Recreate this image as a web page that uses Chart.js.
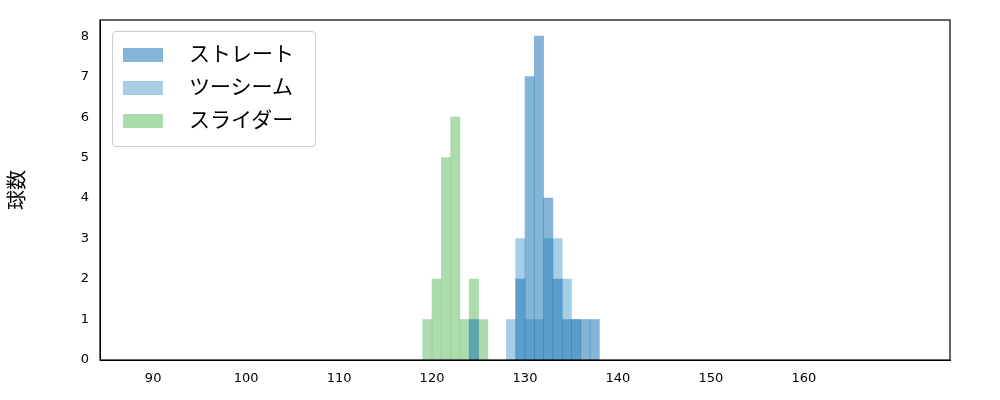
<!DOCTYPE html>
<html>
<head>
<meta charset="utf-8">
<script src="https://cdn.jsdelivr.net/npm/chart.js@4"></script>
<style>
body { margin: 0; background: #fff; font-family: "Noto Sans CJK JP", sans-serif; }
#wrap { position: relative; width: 1000px; height: 400px; }
#legend { position: absolute; left: 112px; top: 31px; width: 202px; height: 114px; border: 1px solid #ccc; border-radius: 4px; background: rgba(255,255,255,0.8); font-size: 21px; }
.item { position: absolute; left: 10px; height: 20px; line-height: 20px; }
.sw { display: inline-block; width: 40px; height: 14px; vertical-align: middle; margin-right: 26px; }
</style>
</head>
<body>
<div id="wrap">
<canvas id="chart" width="1000" height="400"></canvas>
<div id="legend"></div>
</div>
<script>
const names = ['ストレート', 'ツーシーム', 'スライダー'];
const colors = ['rgba(31,119,180,0.55)', 'rgba(107,174,214,0.6)', 'rgba(116,196,118,0.6)'];
// bin start (km/h) -> count, bin width 1
const straightBins = [124, 129, 130, 131, 132, 133, 134, 135, 136, 137];
const straightCounts = [1, 2, 7, 8, 4, 2, 1, 1, 1, 1];
const twoSeamBins = [128, 129, 130, 131, 132, 133, 134, 135];
const twoSeamCounts = [1, 3, 1, 1, 3, 3, 2, 1];
const sliderBins = [119, 120, 121, 122, 123, 124, 125];
const sliderCounts = [1, 2, 5, 6, 1, 2, 1];
const xTicks = [90, 100, 110, 120, 130, 140, 150, 160];

function pts(bins, counts) {
    return bins.map((b, i) => ({ x: b + 0.5, y: counts[i] }));
}

const frame = {
    id: 'frame',
    afterDraw(chart) {
        const a = chart.chartArea, c = chart.ctx;
        c.save();
        c.strokeStyle = '#000';
        c.lineWidth = 1.2;
        c.strokeRect(a.left, a.top, a.right - a.left, a.bottom - a.top);
        c.restore();
    }
};

new Chart(document.getElementById('chart').getContext('2d'), {
    type: 'bar',
    data: {
        datasets: [
            { label: names[0], data: pts(straightBins, straightCounts), backgroundColor: colors[0] },
            { label: names[1], data: pts(twoSeamBins, twoSeamCounts), backgroundColor: colors[1] },
            { label: names[2], data: pts(sliderBins, sliderCounts), backgroundColor: colors[2] }
        ]
    },
    options: {
        responsive: false,
        animation: false,
        layout: { padding: { top: 20, right: 50, left: 0, bottom: 0 } },
        datasets: { bar: { grouped: false, barPercentage: 1, categoryPercentage: 1 } },
        plugins: { legend: { display: false }, tooltip: { enabled: false } },
        scales: {
            x: {
                type: 'linear', min: 90, max: 170,
                grid: { display: false, drawTicks: true },
                border: { color: '#000' },
                afterBuildTicks: s => { s.ticks = xTicks.map(v => ({ value: v })); },
                ticks: { color: '#000', font: { size: 13, family: 'DejaVu Sans' }, autoSkip: false, maxRotation: 0 },
                afterFit: s => { s.height = 40; }
            },
            y: {
                min: 0, max: 8.4,
                grid: { display: false },
                border: { color: '#000' },
                afterBuildTicks: s => { s.ticks = [0,1,2,3,4,5,6,7,8].map(v => ({ value: v })); },
                ticks: { color: '#000', font: { size: 13, family: 'DejaVu Sans' } },
                title: { display: true, text: '球数', color: '#000', font: { size: 20, family: 'Noto Sans CJK JP' } },
                afterFit: s => { s.width = 100; }
            }
        }
    },
    plugins: [frame]
});

const legend = document.getElementById('legend');
names.forEach((n, i) => {
    const d = document.createElement('div');
    d.className = 'item';
    d.style.top = (10 + i * 33) + 'px';
    d.innerHTML = '<span class="sw" style="background:' + colors[i] + '"></span>' + n;
    legend.appendChild(d);
});
</script>
</body>
</html>
